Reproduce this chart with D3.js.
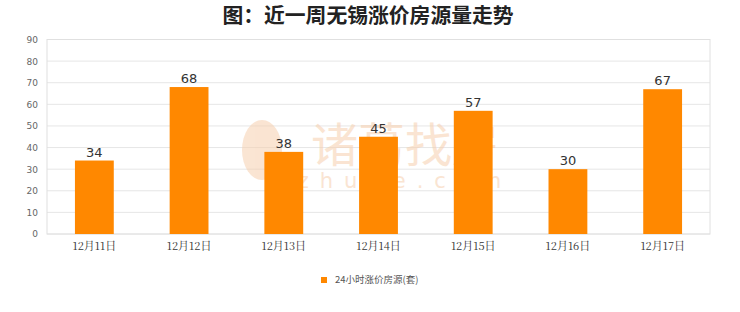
<!DOCTYPE html>
<html><head><meta charset="utf-8">
<script src="https://cdn.jsdelivr.net/npm/d3@7/dist/d3.min.js"></script>
<style>body{margin:0;background:#fff;}svg{display:block;}</style>
</head><body>
<svg id="c" width="740" height="312"></svg>
<script>
const categories = ["12月11日","12月12日","12月13日","12月14日","12月15日","12月16日","12月17日"];
const values = [34,68,38,45,57,30,67];
const yTicks = [0,10,20,30,40,50,60,70,80,90];
const seriesName = "24小时涨价房源(套)";
const title = "图：近一周无锡涨价房源量走势";

const svg = d3.select("#c");
const m = {l:47, r:30, t:39.5, b:78};
const W = 740, H = 312;
const x = d3.scaleBand().domain(categories).range([m.l, W - m.r]).paddingInner(0.59).paddingOuter(0.295);
const y = d3.scaleLinear().domain([0,90]).range([H - m.b, m.t]);

// title
svg.append("text").attr("x",368).attr("y",23).attr("text-anchor","middle")
  .attr("font-family","Noto Sans CJK SC").attr("font-weight","bold").attr("font-size",20.8).attr("fill","#222").text(title);

// grid
svg.append("g").selectAll("line").data(yTicks).join("line")
  .attr("x1",m.l).attr("x2",W-m.r).attr("y1",d=>y(d)).attr("y2",d=>y(d))
  .attr("stroke","#e6e6e6").attr("stroke-width",1);
svg.append("rect").attr("x",m.l).attr("y",m.t).attr("width",W-m.r-m.l).attr("height",y(0)-m.t)
  .attr("fill","none").attr("stroke","#e0e0e0");

// y axis labels
const ya = svg.append("g").attr("transform",`translate(${m.l},0)`)
  .call(d3.axisLeft(y).tickValues(yTicks).tickSize(0).tickPadding(9));
ya.select(".domain").remove();
ya.selectAll("text").attr("font-family","DejaVu Sans").attr("font-size",9).attr("fill","#666");

// watermark (behind bars)
const wm = svg.append("g").attr("opacity",0.55);
wm.append("ellipse").attr("cx",262).attr("cy",150).attr("rx",20).attr("ry",30).attr("fill","#f6cfae");
wm.append("text").attr("x",405).attr("y",162).attr("text-anchor","middle")
  .attr("font-family","Noto Sans CJK SC").attr("font-size",47).attr("fill","#f6cfae").text("诸葛找房");
wm.append("text").attr("x",405).attr("y",188).attr("text-anchor","middle")
  .attr("font-family","DejaVu Sans").attr("font-size",21).attr("letter-spacing",11).attr("fill","#f6cfae").text("zhuge.com");

// bars
svg.append("g").selectAll("rect").data(values).join("rect")
  .attr("x",(d,i)=>x(categories[i])).attr("width",x.bandwidth())
  .attr("y",d=>y(d)).attr("height",d=>y(0)-y(d)).attr("fill","#ff8800");

// value labels
svg.append("g").selectAll("text").data(values).join("text")
  .attr("x",(d,i)=>x(categories[i])+x.bandwidth()/2).attr("y",d=>y(d)-4)
  .attr("text-anchor","middle").attr("font-family","DejaVu Sans").attr("font-size",13).attr("fill","#333").text(d=>d);

// x axis labels
const xa = svg.append("g").attr("transform",`translate(0,${y(0)})`)
  .call(d3.axisBottom(x).tickSize(0).tickPadding(8));
xa.select(".domain").remove();
xa.selectAll("text").attr("font-family","Noto Serif CJK SC, Noto Sans CJK SC").attr("font-size",11).attr("fill","#333");

// legend
const lg = svg.append("g").attr("transform","translate(321,277)");
lg.append("rect").attr("width",6).attr("height",6).attr("fill","#ff8800");
lg.append("text").attr("x",14).attr("y",6).attr("font-family","Noto Sans CJK SC").attr("font-size",9.5).attr("fill","#555").text(seriesName);
</script>
</body></html>
